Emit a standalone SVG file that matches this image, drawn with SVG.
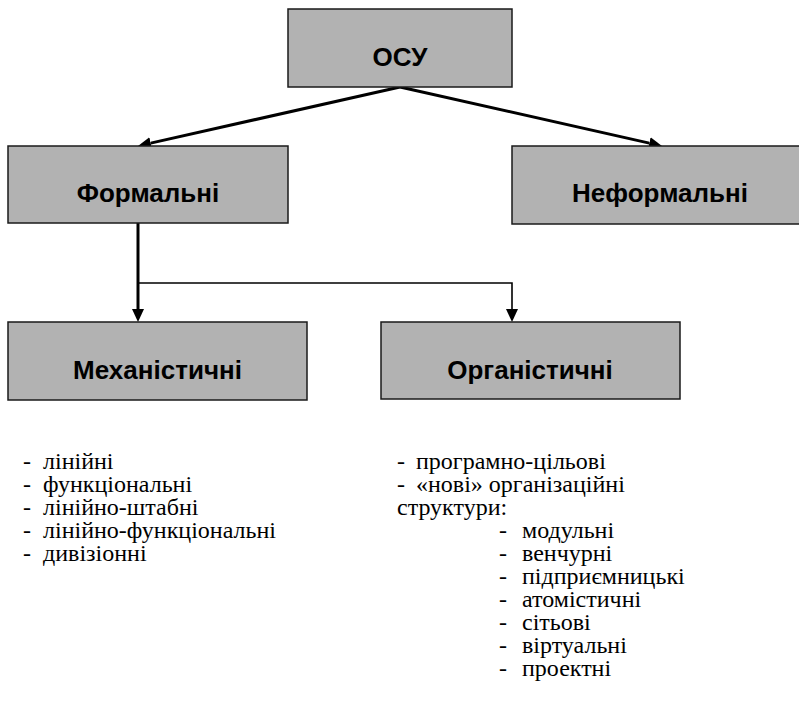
<svg xmlns="http://www.w3.org/2000/svg" width="799" height="722" viewBox="0 0 799 722">
<style>
.box{fill:#b2b2b2;stroke:#1a1a1a;stroke-width:1.5}
.lbl{font-family:"Liberation Sans",Arial,sans-serif;font-weight:bold;font-size:26px;fill:#000;text-anchor:middle}
.lst{font-family:"Liberation Serif","Times New Roman",serif;font-size:24px;fill:#000}
.thick{stroke:#000;stroke-width:3;fill:none}
.thin{stroke:#000;stroke-width:1.6;fill:none}
</style>
<defs>
<marker id="ah" markerUnits="userSpaceOnUse" markerWidth="13" markerHeight="12" refX="0" refY="6" orient="auto" viewBox="0 0 13 12">
<path d="M0,0 L13,6 L0,12 z" fill="#000"/>
</marker>
</defs>
<rect width="799" height="722" fill="#fff"/>
<g id="connectors">
<path class="thick" d="M400,87 L150.7,143.1" marker-end="url(#ah)"/>
<path class="thick" d="M400,87 L649.3,143.1" marker-end="url(#ah)"/>
<path class="thick" d="M138,223 L138,309" marker-end="url(#ah)"/>
<path class="thin" d="M138,283 L512,283 L512,309" marker-end="url(#ah)"/>
</g>
<g id="node-osu">
<rect class="box" x="288" y="9" width="224" height="78"/>
<text class="lbl" x="400" y="66">ОСУ</text>
</g>
<g id="node-formal">
<rect class="box" x="8" y="146" width="280" height="77"/>
<text class="lbl" x="148" y="202">Формальні</text>
</g>
<g id="node-informal">
<rect class="box" x="512" y="146" width="296" height="78"/>
<text class="lbl" x="660" y="202">Неформальні</text>
</g>
<g id="node-mech">
<rect class="box" x="8" y="322" width="299" height="78"/>
<text class="lbl" x="157.5" y="379">Механістичні</text>
</g>
<g id="node-org">
<rect class="box" x="381" y="322" width="299" height="77"/>
<text class="lbl" x="530" y="379">Органістичні</text>
</g>
<g id="list-mech" class="lst">
<text y="469"><tspan x="23">-</tspan><tspan x="43">лінійні</tspan></text>
<text y="492"><tspan x="23">-</tspan><tspan x="43">функціональні</tspan></text>
<text y="515"><tspan x="23">-</tspan><tspan x="43">лінійно-штабні</tspan></text>
<text y="538"><tspan x="23">-</tspan><tspan x="43">лінійно-функціональні</tspan></text>
<text y="561"><tspan x="23">-</tspan><tspan x="43">дивізіонні</tspan></text>
</g>
<g id="list-org" class="lst">
<text y="469"><tspan x="397">-</tspan><tspan x="416">програмно-цільові</tspan></text>
<text y="492"><tspan x="397">-</tspan><tspan x="416">«нові» організаційні</tspan></text>
<text x="397" y="515">структури:</text>
<text y="538"><tspan x="499">-</tspan><tspan x="522">модульні</tspan></text>
<text y="561"><tspan x="499">-</tspan><tspan x="522">венчурні</tspan></text>
<text y="584"><tspan x="499">-</tspan><tspan x="522">підприємницькі</tspan></text>
<text y="607"><tspan x="499">-</tspan><tspan x="522">атомістичні</tspan></text>
<text y="630"><tspan x="499">-</tspan><tspan x="522">сітьові</tspan></text>
<text y="653"><tspan x="499">-</tspan><tspan x="522">віртуальні</tspan></text>
<text y="676"><tspan x="499">-</tspan><tspan x="522">проектні</tspan></text>
</g>
</svg>
